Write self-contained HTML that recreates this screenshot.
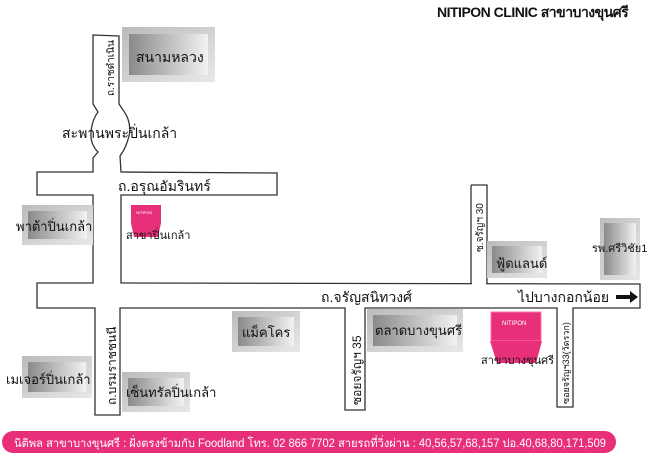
<!DOCTYPE html>
<html><head><meta charset="utf-8"><style>
body{margin:0;background:#fff;}
svg{display:block}
text{font-family:"Liberation Sans","Noto Sans CJK SC",sans-serif;fill:#111}
</style></head><body>
<svg width="650" height="456" viewBox="0 0 650 456" xmlns="http://www.w3.org/2000/svg">
<defs>
<linearGradient id="g" x1="0" x2="1" y1="0" y2="0">
<stop offset="0" stop-color="#8a8a8a"/><stop offset="1" stop-color="#f2f2f2"/></linearGradient>
<linearGradient id="go" x1="0" x2="1" y1="0" y2="1">
<stop offset="0" stop-color="#bbb"/><stop offset="1" stop-color="#e8e8e8"/></linearGradient>
</defs>
<text x="437" y="17" font-size="14" font-weight="bold" letter-spacing="-0.5">NITIPON CLINIC สาขาบางขุนศรี</text>
<g fill="none" stroke="#333" stroke-width="1.3">
<path d="M93,35 L119,36 L119,104 L123,110 Q132,122 129,136 Q126,148 120,156 L121,172 L277,173 L277,195 L121,195 L121,283 L640,284 L640,308 L573,308 L573,407 L557,407 L557,308 L365,308 L365,410 L345,410 L345,308 L120,308 L120,415 L95,415 L95,308 L37,308 L37,283 L93,283 L93,195 L37,195 L37,172 L93,172 L93,158 L98,152 Q90,144 91,132 Q92,120 98,112 L93,104 Z"/>
<path d="M471,185 L487,185 L487,284 M471,185 L471,284"/>
</g>
<line x1="472" y1="284" x2="486" y2="284" stroke="#fff" stroke-width="2"/>
<g>
<rect x="122" y="27" width="93" height="55" fill="url(#go)"/><rect x="129" y="34" width="79" height="41" fill="url(#g)"/>
<rect x="22" y="205" width="71" height="40" fill="url(#go)"/><rect x="28" y="211" width="59" height="28" fill="url(#g)"/>
<rect x="487" y="241" width="60" height="37" fill="url(#go)"/><rect x="492" y="246" width="50" height="27" fill="url(#g)"/>
<rect x="600" y="218" width="40" height="62" fill="url(#go)"/><rect x="604" y="223" width="32" height="52" fill="url(#g)"/>
<rect x="232" y="311" width="68" height="41" fill="url(#go)"/><rect x="238" y="317" width="56" height="29" fill="url(#g)"/>
<rect x="367" y="309" width="96" height="43" fill="url(#go)"/><rect x="373" y="315" width="84" height="31" fill="url(#g)"/>
<rect x="22" y="356" width="70" height="42" fill="url(#go)"/><rect x="28" y="362" width="58" height="30" fill="url(#g)"/>
<rect x="122" y="372" width="68" height="40" fill="url(#go)"/><rect x="128" y="378" width="56" height="28" fill="url(#g)"/>
</g>
<rect x="131" y="205" width="30" height="18" fill="#e8307a"/><path d="M131,223 L161,223 L158,237 L134,237 Z" fill="#e8307a"/>
<text x="136" y="214" font-size="4" style="fill:#fff">NITIPON</text>
<rect x="491" y="312" width="50" height="29" fill="#e8307a" stroke="#f7a" stroke-width="1"/><path d="M490,341 L542,341 L536,363 L497,363 Z" fill="#e8307a"/>
<text x="502" y="325" font-size="6" style="fill:#fff">NITIPON</text>
<g font-size="13">
<text x="136" y="62" font-size="14">สนามหลวง</text>
<text x="62" y="138" font-size="14">สะพานพระปิ่นเกล้า</text>
<text x="118" y="191" font-size="14">ถ.อรุณอัมรินทร์</text>
<text x="16" y="231" font-size="13">พาต้าปิ่นเกล้า</text>
<text x="126" y="239" font-size="11">สาขาปิ่นเกล้า</text>
<text x="496" y="268" font-size="13">ฟู้ดแลนด์</text>
<text x="592" y="252" font-size="11">รพ.ศรีวิชัย1</text>
<text x="321" y="302" font-size="14">ถ.จรัญสนิทวงศ์</text>
<text x="518" y="302" font-size="14">ไปบางกอกน้อย</text>
<text x="242" y="337" font-size="13">แม็คโคร</text>
<text x="375" y="335" font-size="13">ตลาดบางขุนศรี</text>
<text x="481" y="364" font-size="11">สาขาบางขุนศรี</text>
<text x="6" y="384" font-size="13">เมเจอร์ปิ่นเกล้า</text>
<text x="126" y="397" font-size="13">เซ็นทรัลปิ่นเกล้า</text>
<text font-size="10" transform="translate(114,96) rotate(-90)">ถ.ราชดำเนิน</text>
<text font-size="10" transform="translate(483,252) rotate(-90)">ซ.จรัญฯ 30</text>
<text font-size="12" transform="translate(116,405) rotate(-90)">ถ.บรมราชชนนี</text>
<text font-size="12" transform="translate(361,405) rotate(-90)">ซอยจรัญฯ 35</text>
<text font-size="9" transform="translate(569,404) rotate(-90)">ซอยจรัญฯ33(วัดรวก)</text>
</g>
<path d="M616,295 L630,295 L630,291 L638,297 L630,303 L630,299 L616,299 Z" fill="#111"/>
<rect x="2" y="431" width="614" height="22" rx="11" fill="#e8307a"/>
<text x="14" y="447" font-size="11.5" style="fill:#fff" textLength="592" lengthAdjust="spacingAndGlyphs">นิติพล สาขาบางขุนศรี : ฝั่งตรงข้ามกับ Foodland โทร. 02 866 7702 สายรถที่วิ่งผ่าน : 40,56,57,68,157 ปอ.40,68,80,171,509</text>
</svg>
</body></html>
